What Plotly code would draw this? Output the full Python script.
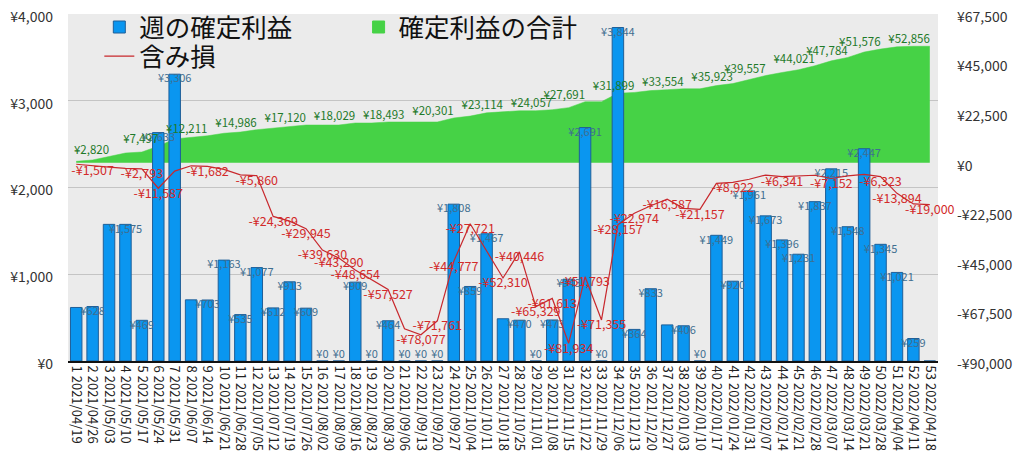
import plotly.graph_objects as go

# ---------------- data ----------------
week_dates = [
    "2021/04/19", "2021/04/26", "2021/05/03", "2021/05/10", "2021/05/17", "2021/05/24",
    "2021/05/31", "2021/06/07", "2021/06/14", "2021/06/21", "2021/06/28", "2021/07/05",
    "2021/07/12", "2021/07/19", "2021/07/26", "2021/08/02", "2021/08/09", "2021/08/16",
    "2021/08/23", "2021/08/30", "2021/09/06", "2021/09/13", "2021/09/20", "2021/09/27",
    "2021/10/04", "2021/10/11", "2021/10/18", "2021/10/25", "2021/11/01", "2021/11/08",
    "2021/11/15", "2021/11/22", "2021/11/29", "2021/12/06", "2021/12/13", "2021/12/20",
    "2021/12/27", "2022/01/03", "2022/01/10", "2022/01/17", "2022/01/24", "2022/01/31",
    "2022/02/07", "2022/02/14", "2022/02/21", "2022/02/28", "2022/03/07", "2022/03/14",
    "2022/03/21", "2022/03/28", "2022/04/04", "2022/04/11", "2022/04/18",
]

weekly_profit = [
    617, 628, 1575, 1575, 469, 2633, 3306, 705, 703, 1163, 535, 1077, 612, 913, 609,
    0, 0, 909, 0, 464, 0, 0, 0, 1808, 859, 1467, 487, 470, 0, 473, 943, 2691, 0, 3844,
    364, 833, 416, 406, 0, 1449, 920, 1961, 1673, 1396, 1231, 1837, 2215, 1548, 2447,
    1345, 1021, 259, 0,
]

cumulative_profit = [
    617, 1245, 2820, 4395, 4864, 7497, 10803, 11508, 12211, 13374, 13909, 14986, 15598,
    16511, 17120, 17120, 17120, 18029, 18029, 18493, 18493, 18493, 18493, 20301, 21160,
    22627, 23114, 23584, 23584, 24057, 25000, 27691, 27691, 31535, 31899, 32732, 33148,
    33554, 33554, 35003, 35923, 37884, 39557, 40953, 42184, 44021, 46236, 47784, 50231,
    51576, 52597, 52856, 52856,
]

unrealized_loss = [
    -700, -1507, -2000, -2600, -2793, -11587, -3800, -1400, -1682, -3000, -5500, -5860,
    -24369, -26500, -29945, -39630, -43290, -48654, -53200, -57527, -75400, -78077,
    -71761, -44777, -27721, -40000, -52310, -40446, -65329, -61613, -81934, -51793,
    -71355, -28157, -22974, -19500, -16587, -20700, -21157, -9350, -8922, -7500, -5600,
    -6341, -6000, -5700, -7152, -6000, -5300, -6323, -13894, -18700, -19000,
]

# weeks (1-based) whose value labels are visible in the chart
bar_label_hidden = [1, 3, 8, 27, 37, 53]
cum_label_weeks = [3, 6, 9, 12, 15, 18, 21, 24, 27, 30, 32, 35, 38, 41, 43, 46, 48, 50, 53]
loss_label_weeks = [2, 5, 6, 9, 12, 13, 15, 16, 17, 18, 20, 22, 23, 24, 25, 27, 28, 29,
                    30, 31, 32, 33, 34, 35, 37, 39, 41, 44, 47, 50, 51, 53]

left_ticks = [0, 1000, 2000, 3000, 4000]
right_ticks = [-90000, -67500, -45000, -22500, 0, 22500, 45000, 67500]

series_names = ["週の確定利益", "含み損", "確定利益の合計"]

# ---------------- helpers ----------------
def yen(v):
    return ("-¥{:,}".format(-v)) if v < 0 else "¥{:,}".format(v)

categories = ["{} {}".format(i + 1, d) for i, d in enumerate(week_dates)]
n_cat = len(categories)

bar_text = ["" if (i + 1) in bar_label_hidden else yen(v) for i, v in enumerate(weekly_profit)]
bar_textpos = ["top center" if v == 0 else "bottom center" for v in weekly_profit]
cum_text = [yen(v) if (i + 1) in cum_label_weeks else "" for i, v in enumerate(cumulative_profit)]
loss_text = [yen(v) if (i + 1) in loss_label_weeks else "" for i, v in enumerate(unrealized_loss)]

FONT = "Noto Sans CJK JP"
BLUE = "#0A96F0"
GREEN = "#46D246"
RED = "#C8282D"

fig = go.Figure()

# cumulative area (right scale, bottom layer)
fig.add_trace(go.Scatter(
    x=categories, y=cumulative_profit, yaxis="y", mode="lines",
    fill="tozeroy", fillcolor=GREEN, line=dict(color=GREEN, width=0.5),
    showlegend=False, hoverinfo="skip"))

# weekly bars (left scale)
fig.add_trace(go.Bar(
    x=categories, y=weekly_profit, yaxis="y2", name=series_names[0],
    marker=dict(color=BLUE, line=dict(color="#1F5F98", width=1)),
    legend="legend"))

# bar value labels
fig.add_trace(go.Scatter(
    x=categories, y=weekly_profit, yaxis="y2", mode="text", text=bar_text,
    textposition=bar_textpos, textfont=dict(family=FONT, size=11, color="#3F6E90"),
    cliponaxis=False, showlegend=False, hoverinfo="skip"))

# unrealized loss line (right scale, top layer)
fig.add_trace(go.Scatter(
    x=categories, y=unrealized_loss, yaxis="y3", mode="lines", name=series_names[1],
    line=dict(color=RED, width=1.2), legend="legend3"))

# legend proxy for the cumulative area
fig.add_trace(go.Bar(
    x=[None], y=[None], yaxis="y3", name=series_names[2],
    marker=dict(color=GREEN, line=dict(color=GREEN, width=1)), legend="legend2"))

# cumulative labels
fig.add_trace(go.Scatter(
    x=categories, y=cumulative_profit, yaxis="y3", mode="text", text=cum_text,
    textposition="top left", textfont=dict(family=FONT, size=11.5, color="#1F7A2A"),
    cliponaxis=False, showlegend=False, hoverinfo="skip"))

# loss labels
fig.add_trace(go.Scatter(
    x=categories, y=unrealized_loss, yaxis="y3", mode="text", text=loss_text,
    textposition="bottom center", textfont=dict(family=FONT, size=12.5, color="#D22A2A"),
    cliponaxis=False, showlegend=False, hoverinfo="skip"))

right_range = [right_ticks[0], right_ticks[-1]]

legend_style = dict(xanchor="left", yanchor="top", orientation="v",
                    bgcolor="rgba(0,0,0,0)",
                    font=dict(family=FONT, size=25.5, color="#111"))

# the page body adds an 8px offset, so margins are compensated
fig.update_layout(
    width=1024, height=469,
    margin=dict(l=60, r=94, t=6, b=116, autoexpand=False),
    paper_bgcolor="white", plot_bgcolor="#EBEBEB",
    barmode="overlay", bargap=0.3,
    font=dict(family=FONT, color="#222"),
    xaxis=dict(
        type="category", range=[-0.5, n_cat - 0.5],
        tickmode="array", tickvals=categories, ticktext=categories,
        tickangle=90, tickfont=dict(family=FONT, size=13, color="#222"),
        showgrid=False, showline=True, linecolor="#111", linewidth=2, ticks="",
        zeroline=False, automargin=False),
    yaxis=dict(
        range=right_range, side="right", tickmode="array", tickvals=right_ticks,
        ticktext=[yen(v) for v in right_ticks], showgrid=False, zeroline=False,
        tickfont=dict(family=FONT, size=14, color="#333"), ticklabelstandoff=18,
        ticklabeloverflow="allow", ticklabelshift=3, automargin=False),
    yaxis2=dict(
        range=[left_ticks[0], left_ticks[-1]], overlaying="y", side="left",
        tickmode="array", tickvals=left_ticks, ticktext=[yen(v) for v in left_ticks],
        showgrid=True, gridcolor="#C4C4C4", gridwidth=1, zeroline=False,
        tickfont=dict(family=FONT, size=14, color="#333"), ticklabelstandoff=14,
        ticklabeloverflow="allow", ticklabelshift=3, automargin=False),
    yaxis3=dict(range=right_range, overlaying="y", visible=False),
    legend=dict(x=0.036, y=1.029, **legend_style),
    legend2=dict(x=0.334, y=1.029, **legend_style),
    legend3=dict(x=0.036, y=0.945, **legend_style),
)

fig.write_html("out.html")
